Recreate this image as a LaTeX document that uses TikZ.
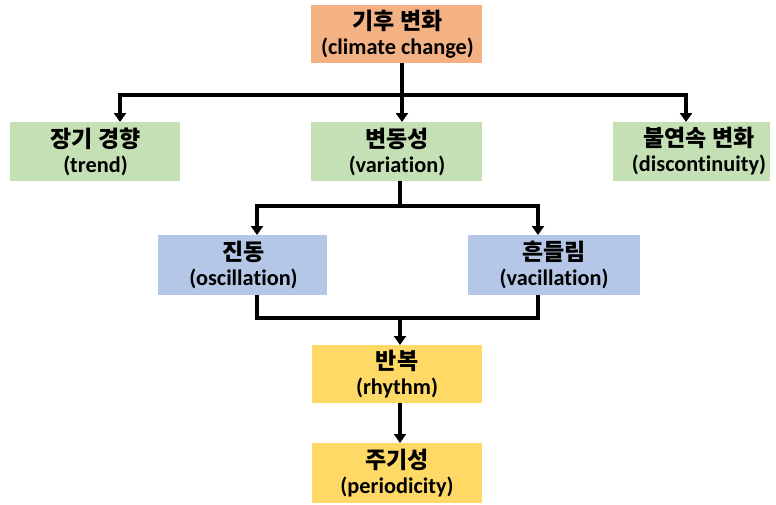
\documentclass[tikz,border=0pt]{standalone}
\usepackage{fontspec}
\setmainfont[Ligatures={NoCommon}]{Carlito}
\newfontfamily\kr{Noto Sans CJK KR}
\usetikzlibrary{arrows.meta}
\definecolor{corange}{HTML}{F4B183}
\definecolor{cgreen}{HTML}{C5E0B4}
\definecolor{cblue}{HTML}{B4C7E7}
\definecolor{cyellow}{HTML}{FFD966}
\newcommand{\krt}[1]{{\kr\bfseries\fontsize{23}{25}\selectfont #1}}
\begin{document}
\begin{tikzpicture}[x=1pt,y=-1pt,
  box/.style={draw=none,inner sep=0pt,align=center,font=\bfseries\fontsize{22.3}{25}\selectfont},
  conn/.style={line width=3.2pt,draw=black},
  arr/.style={conn,-{Triangle[length=9pt,width=12pt]}}]
\useasboundingbox (0,0) rectangle (776,504);
\fill[white] (0,0) rectangle (776,504);
% boxes
\fill[corange] (311,5) rectangle (482,63);
\node[box] (top) at (397.5,34) {\krt{기후 변화}\\(climate change)};
\fill[cgreen] (10,122) rectangle (180,181);
\node[box] (trend) at (95.5,151.5) {\krt{장기 경향}\\(trend)};
\fill[cgreen] (311,122) rectangle (482,181);
\node[box] (var) at (397,151.5) {\krt{변동성}\\(variation)};
\fill[cgreen] (613,122) rectangle (770,181);
\node[box] (disc) at (699,151.5) {\krt{불연속 변화}\\(discontinuity)};
\fill[cblue] (158,235) rectangle (327,295);
\node[box] (osc) at (243.5,265) {\krt{진동}\\(oscillation)};
\fill[cblue] (468,235) rectangle (640,295);
\node[box] (vac) at (554,265) {\krt{흔들림}\\(vacillation)};
\fill[cyellow] (312,345) rectangle (482,403);
\node[box] (rhy) at (397,374) {\krt{반복}\\(rhythm)};
\fill[cyellow] (312,443) rectangle (482,503);
\node[box] (per) at (397,473) {\krt{주기성}\\(periodicity)};
% coordinates
\coordinate (t0) at (402,63);
\coordinate (t1) at (402,95);
\coordinate (tl) at (120,95);
\coordinate (tr) at (686,95);
\coordinate (v0) at (400,181);
\coordinate (v1) at (400,206);
\coordinate (vl) at (257,206);
\coordinate (vr) at (538,206);
\coordinate (o0) at (257,295);
\coordinate (o1) at (257,318);
\coordinate (a0) at (538,295);
\coordinate (a1) at (538,318);
\coordinate (m1) at (400,318);
\coordinate (r0) at (400,403);
% connectors
\draw[conn] (t0) -- (t1);
\draw[conn,line cap=rect] (tl) -- (tr);
\draw[arr] (tl) -- (120,122);
\draw[arr] (t1) -- (402,122);
\draw[arr] (tr) -- (686,122);
\draw[conn] (v0) -- (v1);
\draw[conn,line cap=rect] (vl) -- (vr);
\draw[arr] (vl) -- (257,235);
\draw[arr] (vr) -- (538,235);
\draw[conn,line join=miter] (o0) -- (o1) -- (a1) -- (a0);
\draw[arr] (m1) -- (400,345);
\draw[arr] (r0) -- (400,443);
\end{tikzpicture}
\end{document}
